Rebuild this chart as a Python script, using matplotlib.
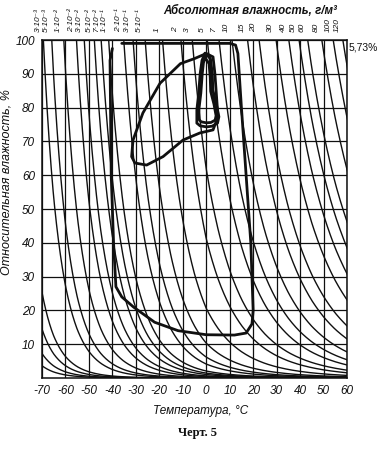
import numpy as np
import matplotlib
matplotlib.use("Agg")
import matplotlib.pyplot as plt

plt.rcParams["axes.unicode_minus"] = False

# ---------------- data ----------------
# saturation absolute humidity table (g/m^3) vs temperature (deg C)
sat_temp = [-75, -70, -65, -60, -55, -50, -45, -40, -35, -30, -25, -20, -15, -10, -5,
            0, 5, 10, 15, 20, 25, 30, 35, 40, 45, 50, 55, 60, 65]
sat_abs = [0.00133, 0.00276, 0.00563, 0.01098, 0.02078, 0.03821, 0.06837, 0.1192,
           0.2032, 0.3388, 0.5527, 0.8834, 1.387, 2.140, 3.247, 4.849, 6.80, 9.40,
           12.83, 17.29, 23.04, 30.36, 39.59, 51.10, 65.4, 82.8, 104.1, 129.7, 160.4]

# labelled absolute-humidity isolines (g/m^3) and their labels
abs_levels = [3e-3, 5e-3, 1e-2, 2e-2, 3e-2, 5e-2, 7e-2, 1e-1, 2e-1, 3e-1, 5e-1,
              1, 2, 3, 5, 7, 10, 15, 20, 30, 40, 50, 60, 80, 100, 120]
abs_labels = ["3·10⁻³", "5·10⁻³", "1·10⁻²", "2·10⁻²", "3·10⁻²", "5·10⁻²", "7·10⁻²",
              "1·10⁻¹", "2·10⁻¹", "3·10⁻¹", "5·10⁻¹",
              "1", "2", "3", "5", "7", "10", "15", "20", "30", "40", "50", "60", "80", "100", "120"]
# unlabelled isolines entering from the left edge
abs_levels_low = [7e-4, 4e-4, 2e-4, 1e-4]

# envelopes (temperature, relative humidity)
outer_T = [-36, -25, 0, 10, 12.5, 13.5, 15, 17, 19, 20, 19.5, 17, 12, 0, -12, -22, -31, -36, -38.5, -39.5, -40.5, -41, -40]
outer_RH = [99, 99, 99, 99, 98.5, 96, 80, 60, 40, 20, 16, 13.3, 12.7, 12.8, 14, 16.5, 21, 24, 27, 40, 60, 94, 97.5]

leaf_T = [0.0, -5, -11, -19.7, -27, -31.2, -31.8, -30.4, -25.4, -18.4, -9.9, -2.7, 2.9, 5.0, 4.4, 3.7, 2.9, 0.0]
leaf_RH = [96, 94.5, 93, 87.2, 78.4, 70.4, 65.5, 63.6, 63, 65.5, 70.4, 72.5, 73.4, 77.3, 83.2, 90, 95, 96]

loop1_T = [-0.5, 1.8, 2.6, 2.8, 4.2, 5.4, 4.8, 2.5, 0.2, -2.6, -4.0, -4.0, -3.2, -2.6, -1.8, -0.5]
loop1_RH = [96.1, 94.5, 90, 85.2, 81.4, 77.3, 75.4, 74.5, 74.3, 74.6, 75.4, 79.3, 84.3, 90, 94, 96.1]
loop2_T = [-0.5, 1.2, 1.7, 1.9, 3.3, 4.2, 3.8, 2.0, 0.0, -2.2, -3.1, -3.1, -2.3, -1.7, -1.2, -0.5]
loop2_RH = [94.8, 93, 89, 84.8, 81.0, 77.6, 76.3, 75.6, 75.5, 75.8, 76.5, 79.6, 84.3, 90, 93.2, 94.8]

x_ticks = [-70, -60, -50, -40, -30, -20, -10, 0, 10, 20, 30, 40, 50, 60]
y_ticks = [10, 20, 30, 40, 50, 60, 70, 80, 90, 100]

# ---------------- figure ----------------
W, H = 377, 449
fig = plt.figure(figsize=(W / 100, H / 100), dpi=100)
ax = fig.add_axes([42 / W, 1 - 378 / H, 305 / W, 338 / H])
ax.set_xlim(-70, 60)
ax.set_ylim(0, 100)

ink = "#101010"
fnt = ["Liberation Sans", "DejaVu Sans"]

for x in x_ticks:
    ax.axvline(x, color=ink, lw=0.9, zorder=1)
for y in y_ticks:
    ax.axhline(y, color=ink, lw=0.9, zorder=1)

T = np.linspace(-75, 65, 2000)
log_sat = np.interp(T, sat_temp, np.log(sat_abs))


def top_temp(a):
    return np.interp(np.log(a), np.log(sat_abs), sat_temp)


for a in abs_levels + abs_levels_low:
    rh = 100 * a / np.exp(log_sat)
    m = rh <= 100
    t, r = T[m], rh[m]
    if len(t) and r[0] < 100:
        t = np.r_[top_temp(a), t]
        r = np.r_[100, r]
    ax.plot(t, r, color=ink, lw=1.0, zorder=2)

for tt, rr in [(outer_T, outer_RH), (leaf_T, leaf_RH), (loop1_T, loop1_RH), (loop2_T, loop2_RH)]:
    ax.plot(tt, rr, color=ink, lw=2.0, zorder=3, solid_joinstyle="round", solid_capstyle="round")

# labels on top of isolines, nudged apart so they never touch
label_x = []
for a in abs_levels:
    p = top_temp(a) - 2.3
    if label_x and p < label_x[-1] + 3.3:
        p = label_x[-1] + 3.3
    label_x.append(p)
for p, lab in zip(label_x, abs_labels):
    ax.text(p, 102.3, lab, rotation=90, ha="center", va="bottom", fontsize=6.0,
            family=fnt, style="italic", color=ink)

for s in ax.spines.values():
    s.set_color(ink)
    s.set_linewidth(1.1)

ax.set_xticks(x_ticks)
ax.set_yticks(y_ticks)
ax.tick_params(length=0, pad=5, colors=ink)
for lab in ax.get_xticklabels() + ax.get_yticklabels():
    lab.set_fontfamily(fnt)
    lab.set_fontstyle("italic")
    lab.set_fontsize(8.5)

ax.set_xlabel("Температура, °С", family=fnt, style="italic", fontsize=8.5, color=ink)
ax.xaxis.set_label_coords(0.521, -0.08)
ax.set_ylabel("Относительная влажность, %", family=fnt, style="italic", fontsize=9, color=ink)
ax.yaxis.set_label_coords(-0.097, 0.58)

fig.text(250 / W, 1 - 11 / H, "Абсолютная влажность, г/м³", family=fnt, style="italic",
         fontweight="bold", fontsize=8.3, ha="center", va="center", color=ink)
fig.text(349 / W, 1 - 48 / H, "5,73%", family=fnt, fontsize=7.5, ha="left", va="center", color=ink)
fig.text(197 / W, 1 - 433 / H, "Черт. 5", family="Liberation Serif", fontweight="bold",
         fontsize=9, ha="center", va="center", color=ink)

fig.savefig("out.png", dpi=100)
